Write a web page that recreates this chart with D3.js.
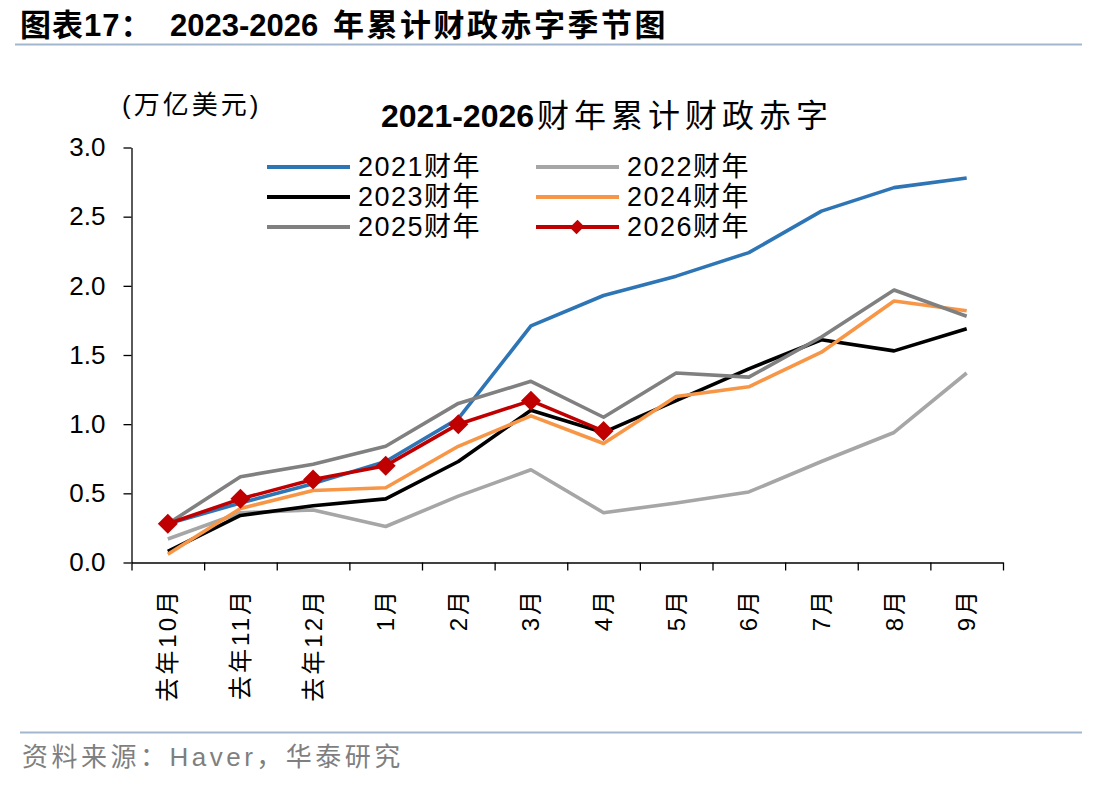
<!DOCTYPE html>
<html>
<head>
<meta charset="utf-8">
<script src="https://cdn.jsdelivr.net/npm/d3@7"></script>
<style>
  body { margin: 0; background: #fff; }
  svg { display: block; font-family: "Liberation Sans", Arial, "Noto Sans CJK SC", sans-serif; }
</style>
</head>
<body>
<div id="chart"></div>
<script>
// months of the fiscal year (Oct - Sep)
const months = ['去年10月', '去年11月', '去年12月', '1月', '2月', '3月', '4月', '5月', '6月', '7月', '8月', '9月'];
const yTicks = [0, 0.5, 1.0, 1.5, 2.0, 2.5, 3.0];

// cumulative deficit, trillion USD
const fy2021 = [0.28, 0.43, 0.57, 0.73, 1.04, 1.71, 1.93, 2.07, 2.24, 2.54, 2.71, 2.78];
const fy2022 = [0.17, 0.36, 0.38, 0.26, 0.48, 0.67, 0.36, 0.43, 0.51, 0.73, 0.94, 1.37];
const fy2023 = [0.08, 0.34, 0.41, 0.46, 0.73, 1.10, 0.94, 1.17, 1.40, 1.61, 1.53, 1.69];
const fy2024 = [0.06, 0.39, 0.52, 0.54, 0.84, 1.06, 0.86, 1.20, 1.27, 1.52, 1.89, 1.82];
const fy2025 = [0.28, 0.62, 0.71, 0.84, 1.15, 1.31, 1.05, 1.37, 1.34, 1.63, 1.97, 1.78];
const fy2026 = [0.28, 0.46, 0.60, 0.70, 1.00, 1.17, 0.95];

const seriesNames = ['2021财年', '2022财年', '2023财年', '2024财年', '2025财年', '2026财年'];
const seriesColors = ['#2e75b6', '#a6a6a6', '#000000', '#f79646', '#808080', '#c00000'];
const seriesValues = [fy2021, fy2022, fy2023, fy2024, fy2025, fy2026];

const W = 1112, H = 786;
const svg = d3.select('#chart').append('svg').attr('width', W).attr('height', H);

// header
const head = svg.append('text').attr('y', 36).attr('font-size', 31).attr('font-weight', 'bold');
head.append('tspan').attr('x', 20).attr('letter-spacing', 1).text('图表17：');
head.append('tspan').attr('x', 170).text('2023-2026');
head.append('tspan').attr('x', 333).attr('letter-spacing', 2.5).text('年累计财政赤字季节图');
svg.append('line').attr('x1', 15).attr('x2', 1082).attr('y1', 44.5).attr('y2', 44.5)
  .attr('stroke', '#a3b6cf').attr('stroke-width', 2);

// footer
svg.append('line').attr('x1', 20).attr('x2', 1082).attr('y1', 732.5).attr('y2', 732.5)
  .attr('stroke', '#a3b6cf').attr('stroke-width', 2);
svg.append('text').attr('x', 22).attr('y', 766).attr('font-size', 26).attr('fill', '#7f7f7f')
  .attr('letter-spacing', 3.5)
  .text('资料来源：Haver，华泰研究');

// scales
const xi = d3.scaleLinear().domain([0, months.length]).range([131.5, 1003]);
const y = d3.scaleLinear().domain([0, 3]).range([562.5, 147.5]);

// chart title + unit
const title = svg.append('text').attr('y', 127).attr('font-size', 32);
title.append('tspan').attr('x', 381).attr('font-weight', 'bold').text('2021-2026');
title.append('tspan').attr('x', 537).attr('letter-spacing', 5).text('财年累计财政赤字');
svg.append('text').attr('x', 122).attr('y', 114).attr('font-size', 26).attr('letter-spacing', 3)
  .text('(万亿美元)');

// y axis
const yAxis = svg.append('g').attr('transform', `translate(${xi(0)},0)`)
  .call(d3.axisLeft(y).tickValues(yTicks).tickFormat(d3.format('.1f')).tickSize(8).tickPadding(18).tickSizeOuter(0));
yAxis.selectAll('text').attr('font-size', 26).attr('fill', '#000').attr('font-family', null);
yAxis.selectAll('line, path').attr('stroke', '#000').attr('stroke-width', 1.3);

// x axis: ticks between categories
const xAxis = svg.append('g').attr('transform', `translate(0,${y(0)})`)
  .call(d3.axisBottom(xi).ticks(months.length).tickFormat('').tickSize(8).tickSizeOuter(0));
xAxis.selectAll('line, path').attr('stroke', '#000').attr('stroke-width', 1.3);

svg.append('g').selectAll('text').data(months).enter().append('text')
  .attr('transform', (d, i) => `translate(${xi(i + 0.5)},588) rotate(-90)`)
  .attr('text-anchor', 'end').attr('dominant-baseline', 'central')
  .attr('font-size', 24).attr('letter-spacing', 3)
  .text(d => d);

// lines
const line = d3.line().x((d, i) => xi(i + 0.5)).y(d => y(d));
const plot = svg.append('g');
seriesValues.forEach((vals, k) => {
  plot.append('path').datum(vals)
    .attr('fill', 'none').attr('stroke', seriesColors[k]).attr('stroke-width', 3.6)
    .attr('stroke-linejoin', 'round').attr('d', line);
});
const diamond = d3.symbol(d3.symbolSquare, 200);
plot.selectAll('.mk').data(fy2026).enter().append('path')
  .attr('class', 'mk')
  .attr('transform', (d, i) => `translate(${xi(i + 0.5)},${y(d)}) rotate(45)`)
  .attr('d', diamond).attr('fill', '#c00000');

// legend
const legX = [267, 536], legY = [167, 197, 227];
const leg = svg.append('g');
seriesNames.forEach((name, k) => {
  const lx = legX[k % 2], ly = legY[Math.floor(k / 2)];
  leg.append('line').attr('x1', lx).attr('x2', lx + 83).attr('y1', ly).attr('y2', ly)
    .attr('stroke', seriesColors[k]).attr('stroke-width', 4);
  if (k === 5) {
    leg.append('path').attr('d', d3.symbol(d3.symbolSquare, 90)())
      .attr('transform', `translate(${lx + 41},${ly}) rotate(45) scale(1,1.15)`)
      .attr('fill', '#c00000');
  }
  leg.append('text').attr('x', lx + 91).attr('y', ly).attr('dominant-baseline', 'central')
    .attr('font-size', 27).attr('letter-spacing', 1.5).text(name);
});
</script>
</body>
</html>
